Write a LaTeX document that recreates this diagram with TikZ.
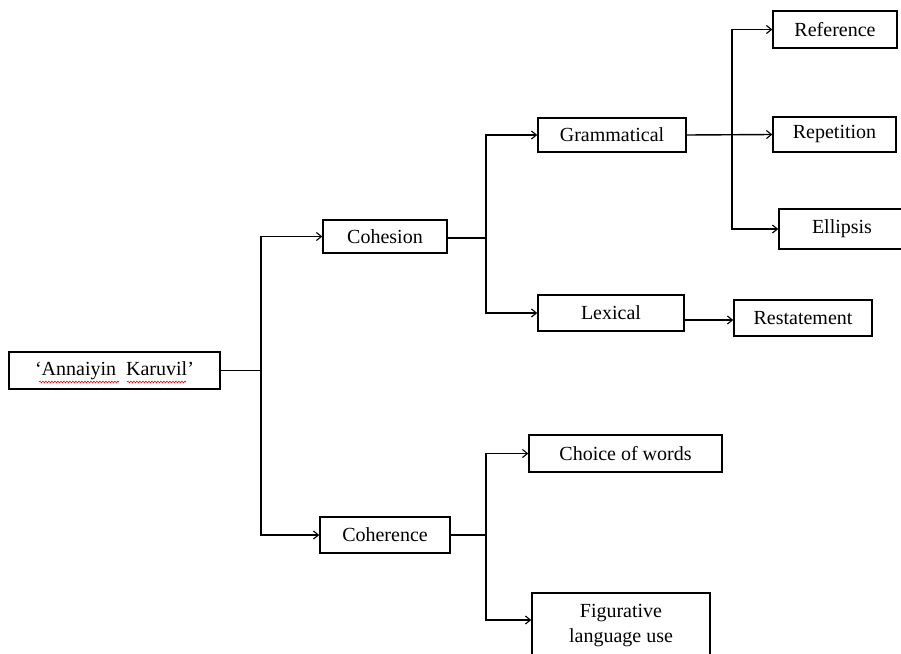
\documentclass[tikz,border=0pt]{standalone}
\usepackage{fontspec}
\setmainfont{Liberation Serif}
\usetikzlibrary{arrows.meta,decorations.pathmorphing}
\begin{document}
\begin{tikzpicture}[x=1pt,y=-1pt,
  box/.style={draw,line width=1.4pt,inner sep=0pt,align=center,
    font=\fontsize{20}{25}\selectfont},
  conn/.style={line width=1.4pt},
  arr/.style={conn,-{Straight Barb[length=5pt,width=8pt,line width=1.1pt]}},
  squig/.style={red,line width=0.6pt,decorate,decoration={snake,amplitude=0.9pt,segment length=3pt}}]
\useasboundingbox (0,0) rectangle (901,653);
% nodes
\node[box,minimum width=211,minimum height=37] (root) at (114.5,370.5) {‘Annaiyin\ \ Karuvil’};
\node[box,minimum width=124,minimum height=33] (cohesion) at (385,236.5) {Cohesion};
\node[box,minimum width=130,minimum height=36] (coherence) at (385,535) {Coherence};
\node[box,minimum width=148,minimum height=34] (gram) at (612,135) {Grammatical};
\node[box,minimum width=146,minimum height=36] (lex) at (611,313) {Lexical};
\node[box,minimum width=124,minimum height=37] (ref) at (835,29.5) {Reference};
\node[box,minimum width=123,minimum height=35] (rep) at (834.5,134.5) {Repetition};
\node[box,minimum width=126,minimum height=40] (ell) at (842,229) {Ellipsis};
\node[box,minimum width=138,minimum height=36] (rest) at (803,318) {Restatement};
\node[box,minimum width=193,minimum height=37] (choice) at (625.5,453.5) {Choice of words};
\node[box,minimum width=178,minimum height=65] (fig) at (621,625.5) {Figurative\\language use};
% spell-check squiggles
\draw[squig] (39,382) -- (119,382);
\draw[squig] (127,382) -- (186,382);
% junctions
\coordinate (j1) at (261,370.5);
\coordinate (j2) at (486,238);
\coordinate (j3) at (732,135);
\coordinate (j4) at (486,535);
\coordinate (lexo) at ([yshift=-7pt]lex.east);
\coordinate (figi) at ([yshift=5.5pt]fig.west);
% connectors
\draw[conn] (root.east) -- (j1);
\draw[arr] (j1) |- (cohesion.west);
\draw[arr] (j1) |- (coherence.west);
\draw[conn] (cohesion.east |- j2) -- (j2);
\draw[arr] (j2) |- (gram.west);
\draw[arr] (j2) |- (lex.west);
\draw[arr] (gram.east) -- (rep.west);
\draw[arr] (j3) |- (ref.west);
\draw[arr] (j3) |- (ell.west);
\draw[arr] (lexo) -- (rest.west |- lexo);
\draw[conn] (coherence.east) -- (j4);
\draw[arr] (j4) |- (choice.west);
\draw[arr] (j4) |- (figi);
\end{tikzpicture}
\end{document}
